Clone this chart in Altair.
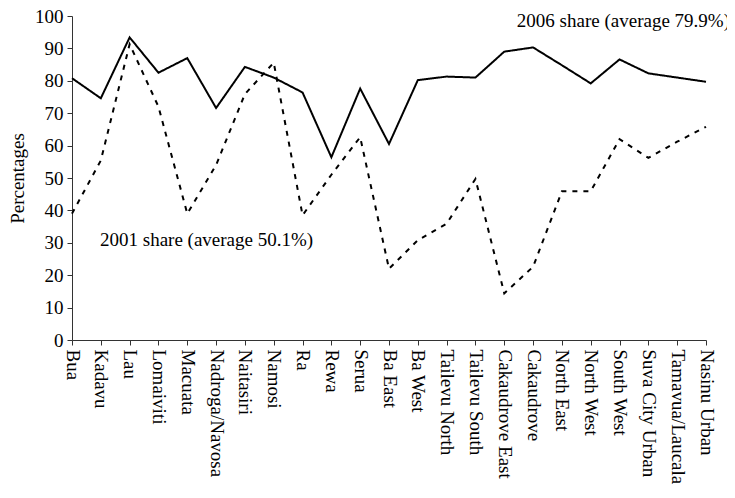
import altair as alt
import pandas as pd

districts = ["Bua", "Kadavu", "Lau", "Lomaiviti", "Macuata", "Nadroga/Navosa", "Naitasiri",
             "Namosi", "Ra", "Rewa", "Serua", "Ba East", "Ba West", "Tailevu North",
             "Tailevu South", "Cakaudrove East", "Cakaudrove", "North East", "North West",
             "South West", "Suva City Urban", "Tamavua/Laucala", "Nasinu Urban"]

share_2006 = [80.8, 74.6, 93.4, 82.5, 87.0, 71.6, 84.3, 81.0, 76.4, 56.4, 77.6, 60.5,
              80.2, 81.3, 81.0, 89.0, 90.3, 84.8, 79.2, 86.6, 82.3, 81.0, 79.7]
share_2001 = [39.0, 55.4, 91.3, 72.0, 39.0, 54.0, 75.9, 85.6, 38.5, 51.0, 62.6, 22.0,
              30.8, 35.9, 49.7, 14.4, 22.6, 45.9, 45.9, 62.0, 56.2, 61.2, 65.8]

series_names = ["2006", "2001"]

rows = []
for i, d in enumerate(districts):
    rows.append({"district": d, "series": series_names[0], "value": share_2006[i], "order": i})
    rows.append({"district": d, "series": series_names[1], "value": share_2001[i], "order": i})
df = pd.DataFrame(rows)

FONT = "Liberation Serif"
FS = 19

x_axis = alt.Axis(title=None, labelAngle=90, labelAlign="left", labelBaseline="middle",
                  labelFontSize=FS, labelColor="black", labelFont=FONT,
                  labelOverlap=False, labelLimit=0,
                  tickSize=5, tickColor="#333", domainColor="#333", labelPadding=4,
                  grid=False)
y_axis = alt.Axis(title="Percentages", values=list(range(0, 101, 10)),
                  titleFont=FONT, titleFontSize=FS, titleFontWeight="normal",
                  titleColor="black", titlePadding=7, labelOverlap=False,
                  labelFont=FONT, labelFontSize=FS, labelColor="black",
                  tickSize=5, tickColor="#333", domainColor="#333", labelPadding=4,
                  grid=False)


def xe():
    return alt.X("district:N", sort=districts, scale=alt.Scale(type="point", padding=0), axis=x_axis)


def ye():
    return alt.Y("value:Q", scale=alt.Scale(domain=[0, 100], nice=False), axis=y_axis)


lines = alt.Chart(df).mark_line(color="black", strokeWidth=2).encode(
    x=xe(), y=ye(),
    strokeDash=alt.StrokeDash("series:N", scale=alt.Scale(domain=series_names, range=[[1, 0], [5, 6]]),
                              legend=None),
    order="order:Q",
)

labels = pd.DataFrame({
    "district": ["Nasinu Urban", "Bua"],
    "value": [98.5, 30.8],
    "text": ["2006 share (average 79.9%)", "2001 share (average 50.1%)"],
})

lab1 = alt.Chart(labels.iloc[[0]]).mark_text(font=FONT, fontSize=FS, color="black", align="right",
                                             baseline="middle", dx=24).encode(
    x=xe(), y=ye(), text="text:N")
lab2 = alt.Chart(labels.iloc[[1]]).mark_text(font=FONT, fontSize=FS, color="black", align="left",
                                             baseline="middle", dx=28).encode(
    x=xe(), y=ye(), text="text:N")

chart = alt.layer(lines, lab1, lab2).properties(
    width=634, height=324,
    autosize=alt.AutoSizeParams(type="none"),
    padding={"left": 64, "top": 8, "right": 21, "bottom": 150},
).configure(background="white").configure_view(stroke=None)

chart.save("out.html", embed_options={"renderer": "svg", "actions": False})
